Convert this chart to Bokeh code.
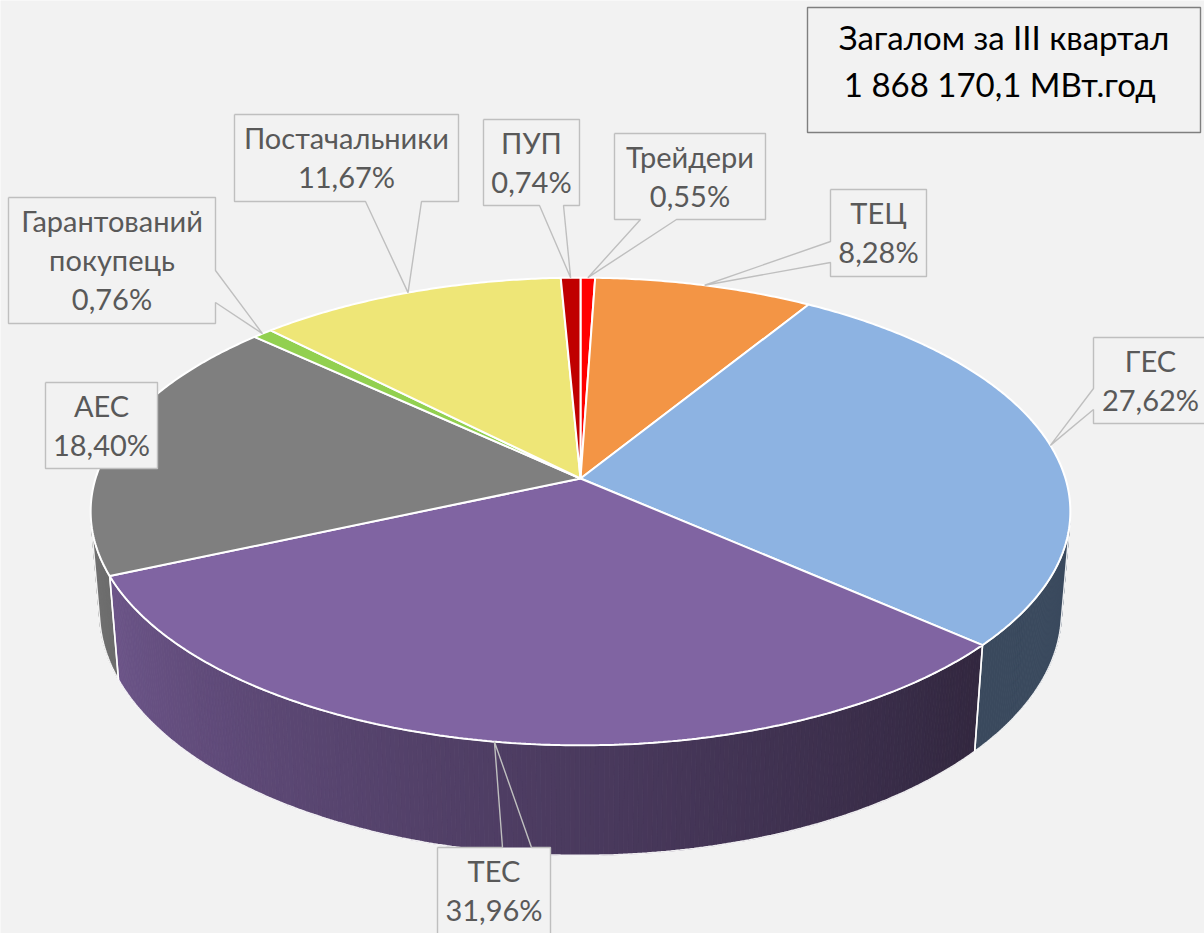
import numpy as np
from bokeh.plotting import figure
from bokeh.models import Range1d
from bokeh.core.properties import value
from bokeh.embed import file_html
from bokeh.resources import INLINE

# ---------------- data ----------------
categories = ["Трейдери", "ТЕЦ", "ГЕС", "ТЕС", "АЕС",
              "Гарантований покупець", "Постачальники", "ПУП"]
label_lines = [["Трейдери"], ["ТЕЦ"], ["ГЕС"], ["ТЕС"], ["АЕС"],
               ["Гарантований", "покупець"], ["Постачальники"], ["ПУП"]]
shares = [0.55, 8.28, 27.62, 31.96, 18.40, 0.76, 11.67, 0.74]
top_colors = ["#FF0000", "#F39545", "#8DB3E2", "#8064A2", "#7F7F7F",
              "#92D050", "#EEE677", "#C00000"]
title_lines = ["Загалом за III квартал", "1 868 170,1  МВт.год"]

# ---------------- layout (pixel space of the reference) ----------------
# label boxes: x0, y0, x1, y1, pointer side, pointer base start, end
label_boxes = [
    (614, 133, 765, 219, "bottom", 640, 676),
    (830, 189, 926, 276, "left", 241, 262),
    (1093, 337, 1207, 423, "left", 388, 409),
    (437, 847, 550, 934, "top", 502, 531),
    (45, 382, 157, 468, None, 0, 0),
    (8, 197, 215, 323, "right", 270, 302),
    (234, 114, 458, 201, "bottom", 365, 421),
    (483, 119, 579, 205, "bottom", 539, 563),
]
title_box = (807, 7, 1200, 132)

W, H = 1204, 933
CX, CY = 580.0, 478.0
FOC = 3031.0
DIST = 6.25
PHI = np.radians(28.2)
DEPTH = 0.237

BG = "#F2F2F2"


def project(alpha, z):
    x = np.sin(alpha)
    y = np.cos(alpha)
    v = y * np.sin(PHI) + z * np.cos(PHI)
    w = y * np.cos(PHI) - z * np.sin(PHI)
    return CX + FOC * x / (DIST + w), CY - FOC * v / (DIST + w)


def shade(hex_color, f):
    h = hex_color.lstrip("#")
    r, g, b = (int(h[i:i + 2], 16) for i in (0, 2, 4))
    r, g, b = (int(max(0, min(255, round(c * f)))) for c in (r, g, b))
    return "#%02x%02x%02x" % (r, g, b)


def wall_factor(name, alpha):
    if name == "ГЕС":
        return 0.41
    f = 0.58 + np.degrees(alpha - np.pi) * 0.00394
    return float(min(0.88, max(0.34, f)))


total = float(sum(shares))
cum = np.concatenate([[0.0], np.cumsum(shares)]) / total * 2 * np.pi

p = figure(width=W, height=H,
           x_range=Range1d(0, W), y_range=Range1d(H, 0),
           output_backend="svg", toolbar_location=None,
           x_axis_type=None, y_axis_type=None,
           min_border=0, min_border_left=0, min_border_right=0,
           min_border_top=0, min_border_bottom=0)
p.grid.visible = False
p.outline_line_color = None
p.background_fill_color = BG
p.border_fill_color = BG

# ---------------- side walls ----------------
a_lo = np.arccos(-1.0 / (DIST * np.cos(PHI)))
a_hi = 2 * np.pi - a_lo

wx, wy, wc = [], [], []
ox, oy = [], []
for i, name in enumerate(categories):
    a0 = max(cum[i], a_lo)
    a1 = min(cum[i + 1], a_hi)
    if a1 <= a0:
        continue
    n = max(2, int(np.ceil(np.degrees(a1 - a0) / 0.5)))
    al = np.linspace(a0, a1, n + 1)
    for k in range(n):
        aa = np.array([al[k], al[k + 1]])
        tx, ty = project(aa, 0.0)
        bx, by = project(aa, -DEPTH)
        col = shade(top_colors[i], wall_factor(name, aa.mean()))
        wx.append([tx[0], tx[1], bx[1], bx[0]])
        wy.append([ty[0], ty[1], by[1], by[0]])
        wc.append(col)
    tx, ty = project(al, 0.0)
    bx, by = project(al, -DEPTH)
    ox.append(list(tx) + list(bx[::-1]) + [tx[0]])
    oy.append(list(ty) + list(by[::-1]) + [ty[0]])

p.patches(wx, wy, fill_color=wc, line_color=wc, line_width=0.9)
p.multi_line(ox, oy, line_color="white", line_width=1.6, line_alpha=0.9)

# ---------------- top face ----------------
txs, tys = [], []
for i in range(len(categories)):
    n = max(4, int(np.ceil(np.degrees(cum[i + 1] - cum[i]) / 0.5)))
    al = np.linspace(cum[i], cum[i + 1], n + 1)
    ax, ay = project(al, 0.0)
    txs.append([CX] + list(ax))
    tys.append([CY] + list(ay))
p.patches(txs, tys, fill_color=top_colors, line_color="white", line_width=2)

# ---------------- data labels (callouts) ----------------
rxs, rys = [], []
bxs, bys = [], []
tx_list, ty_list, tt_list = [], [], []
for i, (x0, y0, x1, y1, side, b0, b1) in enumerate(label_boxes):
    mid = 0.5 * (cum[i] + cum[i + 1])
    px, py = project(np.array([mid]), 0.0)
    tip = (float(px[0]), float(py[0]))
    TL, TR, BR, BL = (x0, y0), (x1, y0), (x1, y1), (x0, y1)
    if side == "top":
        pts = [TL, (b0, y0), tip, (b1, y0), TR, BR, BL, TL]
    elif side == "right":
        pts = [TL, TR, (x1, b0), tip, (x1, b1), BR, BL, TL]
    elif side == "bottom":
        pts = [TL, TR, BR, (b1, y1), tip, (b0, y1), BL, TL]
    elif side == "left":
        pts = [TL, TR, BR, BL, (x0, b1), tip, (x0, b0), TL]
    else:
        pts = [TL, TR, BR, BL, TL]
    bxs.append([q[0] for q in pts])
    bys.append([q[1] for q in pts])
    rxs.append([x0, x1, x1, x0])
    rys.append([y0, y0, y1, y1])

    pct = ("%.2f" % shares[i]).replace(".", ",") + "%"
    lines = label_lines[i] + [pct]
    nl = len(lines)
    cxm = 0.5 * (x0 + x1)
    cym = 0.5 * (y0 + y1)
    for j, t in enumerate(lines):
        tx_list.append(cxm)
        ty_list.append(cym + (j - (nl - 1) / 2.0) * 39 - 1)
        tt_list.append(t)

p.patches(rxs, rys, fill_color=BG, line_color=None)
p.multi_line(bxs, bys, line_color="#BFBFBF", line_width=1.4)
p.text(x=tx_list, y=ty_list, text=tt_list,
       text_font=value("Lato"), text_font_size="29px",
       text_color="#595959", text_align="center", text_baseline="alphabetic")

# ---------------- title box ----------------
x0, y0, x1, y1 = title_box
p.patch([x0, x1, x1, x0], [y0, y0, y1, y1], fill_color=BG,
        line_color="#7F7F7F", line_width=1.4)
cxm, cym = 0.5 * (x0 + x1), 0.5 * (y0 + y1)
p.text(x=[cxm] * len(title_lines),
       y=[cym + (j - 0.5) * 47 - 10 for j in range(len(title_lines))],
       text=title_lines, text_font=value("Lato"), text_font_size="33px",
       text_color="#000000", text_align="center", text_baseline="alphabetic")

open("out.html", "w").write(file_html(p, INLINE))
